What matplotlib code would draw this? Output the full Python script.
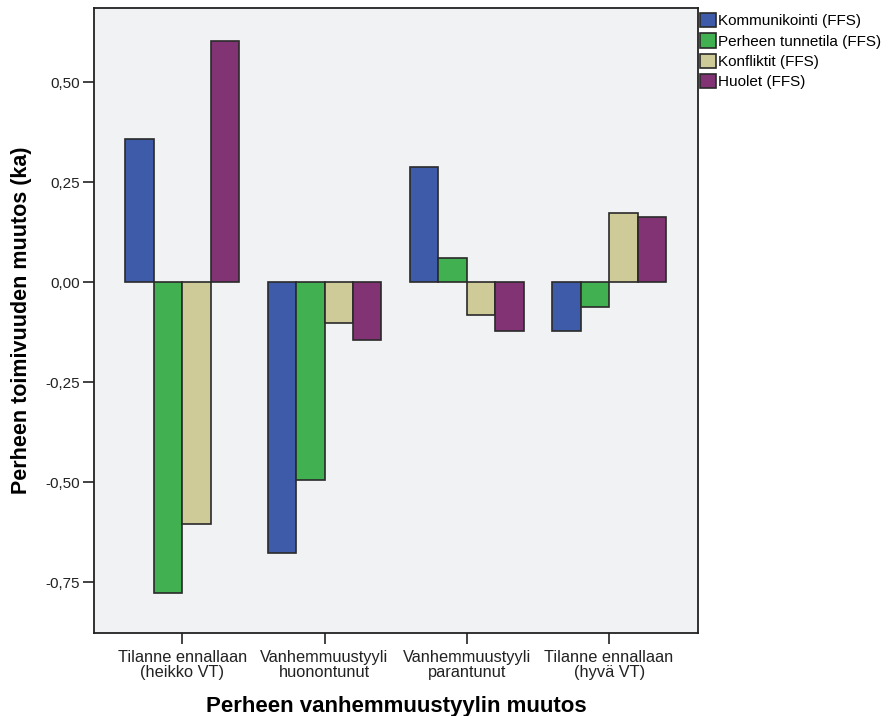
import matplotlib.pyplot as plt
import numpy as np
from matplotlib.ticker import FuncFormatter

plt.rcParams['font.family'] = ['Liberation Sans', 'DejaVu Sans']

groups = ['Tilanne ennallaan\n(heikko VT)', 'Vanhemmuustyyli\nhuonontunut',
          'Vanhemmuustyyli\nparantunut', 'Tilanne ennallaan\n(hyvä VT)']
series = ['Kommunikointi (FFS)', 'Perheen tunnetila (FFS)', 'Konfliktit (FFS)', 'Huolet (FFS)']
kommunikointi = [0.358, -0.677, 0.288, -0.122]
tunnetila = [-0.778, -0.495, 0.060, -0.063]
konfliktit = [-0.605, -0.103, -0.083, 0.172]
huolet = [0.603, -0.145, -0.122, 0.162]
colors = ['#3E5BA9', '#40B050', '#CFCB98', '#823373']

fig = plt.figure(figsize=(8.92, 7.16), dpi=100)
ax = fig.add_axes([94/892, 1-633/716, 604/892, 625/716])
ax.set_facecolor('#F1F2F4')

x = np.arange(len(groups))
w = 0.2
handles = []
for i, vals in enumerate([kommunikointi, tunnetila, konfliktit, huolet]):
    b = ax.bar(x + (i - 1.5) * w, vals, w, color=colors[i], edgecolor='#2a2a2a',
               linewidth=1.2, label=series[i], zorder=3)
    handles.append(b)

ax.set_xlim(-0.62, 3.625)
ax.set_ylim(-0.8775, 0.685)
ax.set_yticks([-0.75, -0.5, -0.25, 0, 0.25, 0.5])
ax.yaxis.set_major_formatter(FuncFormatter(lambda v, p: ('%.2f' % v).replace('.', ',')))
ax.set_xticks(x)
ax.set_xticklabels(groups, fontsize=11.8, color='#222222', linespacing=1.0)
ax.tick_params(axis='y', labelsize=11, length=8, width=1.2, colors='#222222', pad=2)
ax.tick_params(axis='x', length=8, width=1.2, colors='#222222', pad=4)
for s in ax.spines.values():
    s.set_linewidth(1.3)
    s.set_color('#222222')

ax.set_ylabel('Perheen toimivuuden muutos (ka)', fontsize=15.5, fontweight='bold', labelpad=10)
ax.set_xlabel('Perheen vanhemmuustyylin muutos', fontsize=16, fontweight='bold', labelpad=12)

fig.legend(handles=handles, labels=series, loc='upper left', bbox_to_anchor=(697/892, 1-10/716),
           frameon=False, fontsize=11, handlelength=1.05, handleheight=1.05,
           handletextpad=0.15, labelspacing=0.33, borderaxespad=0, borderpad=0.2)

plt.savefig('out.png', dpi=100)
